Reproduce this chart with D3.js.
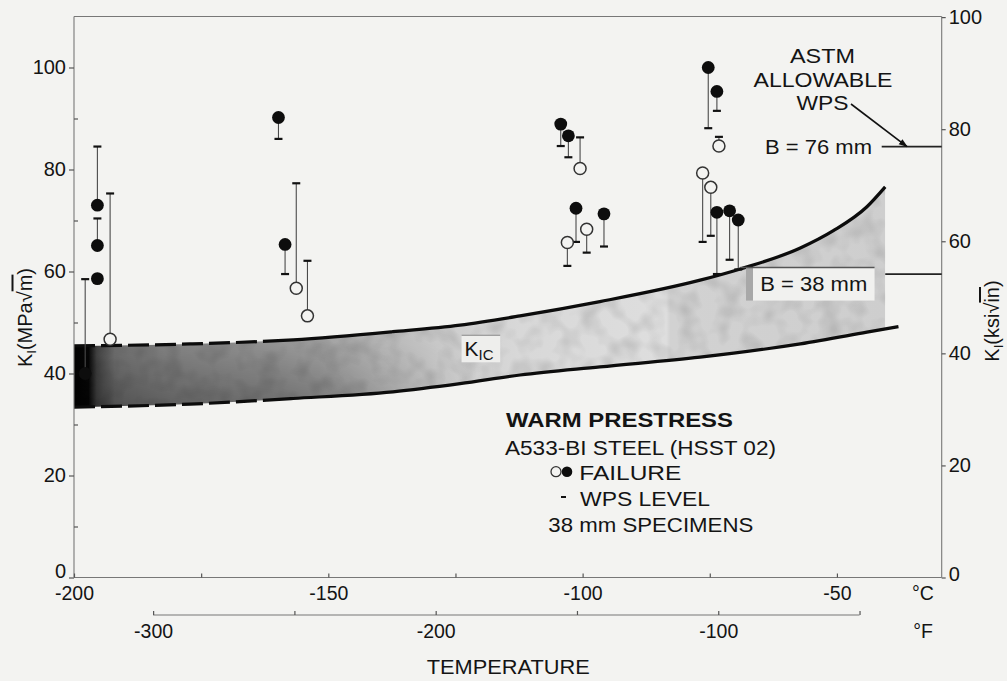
<!DOCTYPE html>
<html><head><meta charset="utf-8">
<script src="https://cdn.jsdelivr.net/npm/d3@7"></script>
<style>
html,body{margin:0;padding:0;background:#f3f3f1;}
svg{display:block;}
text{font-family:"Liberation Sans",Arial,Helvetica,sans-serif;fill:#141414;}
</style></head><body>
<svg id="chart" width="1007" height="681"></svg>
<script>
// ---------- data ----------
const tempTicksC = [-200, -150, -100, -50];
const tempAllTicksC = [-200, -175, -150, -125, -100, -75, -50];
const tempTicksF = [-300, -200, -100];
const tempAllTicksF = [-300, -250, -200, -150, -100, -50];
const kTicksMPa = [0, 20, 40, 60, 80, 100];
const kMinorMPa = [10, 30, 50, 70, 90];
const kTicksKsi = [0, 20, 40, 60, 80, 100];

// specimens: temperature (°C), failure K (MPa√m), WPS level K (MPa√m), filled symbol
const specTemp  = [-197.8, -195.4, -195.4, -195.4, -192.9, -159.8, -158.5, -156.3, -154.1,
                   -104.3, -102.8, -100.5, -101.3, -103.0, -99.2, -95.8,
                   -75.3, -73.6, -73.2, -76.4, -74.8, -73.6, -71.1, -69.4];
const specFail  = [40.0, 73.0, 65.1, 58.6, 46.7, 90.2, 65.3, 56.7, 51.3,
                   88.9, 86.6, 80.2, 72.4, 65.7, 68.3, 71.3,
                   100.0, 95.3, 84.6, 79.3, 76.5, 71.6, 71.9, 70.1];
const specWps   = [58.5, 84.5, 70.4, 58.6, 75.3, 86.0, 59.5, 77.3, 62.1,
                   84.6, 82.4, 86.3, 65.8, 61.1, 63.7, 64.9,
                   88.1, 91.5, 86.4, 65.8, 67.0, 59.5, 62.3, 60.4];
const specFilled = [1, 1, 1, 1, 0, 1, 1, 0, 0,
                    1, 1, 0, 1, 0, 0, 1,
                    1, 1, 0, 0, 0, 1, 1, 1];

// K_IC scatter band
const bandUpperT = [-200, -177.2, -156.9, -137.3, -124.1, -112.3, -96.6, -76.9, -69.0, -57.2, -50.7, -44.1, -40.5];
const bandUpperK = [45.4, 45.8, 46.6, 48.2, 49.5, 51.3, 54.1, 58.3, 60.5, 64.6, 68.0, 72.7, 76.6];
const bandLowerT = [-200, -177.2, -156.9, -137.3, -124.1, -112.3, -96.6, -76.9, -57.2, -44.1, -37.9];
const bandLowerK = [33.4, 34.0, 35.1, 36.4, 38.0, 39.7, 41.3, 43.2, 45.8, 48.1, 49.2];

// ASTM allowable WPS levels (MPa√m)
const allowLabels = ["B = 76 mm", "B = 38 mm"];
const allowK = [84.5, 59.5];

// ---------- scales ----------
const svg = d3.select("#chart");
const x = d3.scaleLinear().domain([-200, -29.4]).range([74, 941.7]);
const y = d3.scaleLinear().domain([0, 110]).range([577.5, 16.5]);
const yK = d3.scaleLinear().domain([0, 110 / 1.0988]).range([577.5, 16.5]);
const f2c = f => (f - 32) * 5 / 9;
const xF = d3.scaleLinear().domain([-300, -50]).range([x(f2c(-300)), x(f2c(-50))]);

const defs = svg.append("defs");
// band gradient
const grad = defs.append("linearGradient").attr("id", "bandGrad")
  .attr("gradientUnits", "userSpaceOnUse")
  .attr("x1", x(-200)).attr("x2", x(-40.5)).attr("y1", 0).attr("y2", 0);
[[0, "#040404"], [0.018, "#080808"], [0.028, "#4a4a4a"], [0.05, "#7a7a7a"], [0.12, "#8e8e8e"],
 [0.25, "#a0a0a0"], [0.35, "#b8b8b8"], [0.45, "#cdcdcd"], [0.55, "#d8d8d8"], [0.73, "#dedede"],
 [0.735, "#d2d2d2"], [1, "#cecece"]].forEach(([o, c]) =>
  grad.append("stop").attr("offset", o).attr("stop-color", c));
// vertical darkening (bottom of band, left part)
const vg = defs.append("linearGradient").attr("id", "vGrad").attr("x1", 0).attr("x2", 0).attr("y1", 0).attr("y2", 1);
vg.append("stop").attr("offset", 0).attr("stop-color", "#000").attr("stop-opacity", 0);
vg.append("stop").attr("offset", 1).attr("stop-color", "#000").attr("stop-opacity", 0.35);
const hm = defs.append("linearGradient").attr("id", "hMaskGrad")
  .attr("gradientUnits", "userSpaceOnUse").attr("x1", x(-200)).attr("x2", x(-120)).attr("y1", 0).attr("y2", 0);
hm.append("stop").attr("offset", 0).attr("stop-color", "#fff");
hm.append("stop").attr("offset", 0.6).attr("stop-color", "#fff");
hm.append("stop").attr("offset", 1).attr("stop-color", "#000");
defs.append("mask").attr("id", "leftMask").attr("maskUnits", "userSpaceOnUse")
  .attr("x", 0).attr("y", 0).attr("width", 1007).attr("height", 681)
  .append("rect").attr("x", 0).attr("y", 0).attr("width", 1007).attr("height", 681).attr("fill", "url(#hMaskGrad)");
// grain
const flt = defs.append("filter").attr("id", "grain").attr("x", 0).attr("y", 0).attr("width", 1).attr("height", 1);
flt.append("feTurbulence").attr("type", "fractalNoise").attr("baseFrequency", 0.05).attr("numOctaves", 2).attr("seed", 7);
flt.append("feColorMatrix").attr("type", "matrix")
  .attr("values", "0 0 0 0 0  0 0 0 0 0  0 0 0 0 0  1.2 0 0 0 -0.5");
// clip paths for band
defs.append("clipPath").attr("id", "belowUpper").append("path")
  .attr("d", d3.area().x(d => x(d[0])).y0(y(0)).y1(d => y(d[1])).curve(d3.curveMonotoneX)(bandUpperT.map((t, i) => [t, bandUpperK[i]])));
defs.append("clipPath").attr("id", "aboveLower").append("path")
  .attr("d", d3.area().x(d => x(d[0])).y0(y(110)).y1(d => y(d[1])).curve(d3.curveMonotoneX)(bandLowerT.map((t, i) => [t, bandLowerK[i]])));
// arrow marker
defs.append("marker").attr("id", "arrow").attr("viewBox", "0 0 10 10").attr("refX", 9).attr("refY", 5)
  .attr("markerWidth", 9).attr("markerHeight", 9).attr("markerUnits", "userSpaceOnUse").attr("orient", "auto")
  .append("path").attr("d", "M0,1.5 L10,5 L0,8.5 Z").attr("fill", "#111");

// ---------- band ----------
const bandG = svg.append("g").attr("clip-path", "url(#belowUpper)")
  .append("g").attr("clip-path", "url(#aboveLower)");
const bx0 = x(-200), bx1 = x(-40.5);
bandG.append("rect").attr("x", bx0).attr("y", y(110)).attr("width", bx1 - bx0).attr("height", y(0) - y(110))
  .attr("fill", "url(#bandGrad)");
bandG.append("rect").attr("x", bx0).attr("y", y(50)).attr("width", bx1 - bx0).attr("height", y(32) - y(50))
  .attr("fill", "url(#vGrad)").attr("mask", "url(#leftMask)");
bandG.append("rect").attr("x", bx0).attr("y", y(80)).attr("width", bx1 - bx0).attr("height", y(30) - y(80))
  .attr("filter", "url(#grain)").attr("opacity", 0.22);

const lineGen = d3.line().x(d => x(d[0])).y(d => y(d[1])).curve(d3.curveMonotoneX);
function bandLine(T, K, dashUntil) {
  const p = svg.append("path").attr("d", lineGen(T.map((t, i) => [t, K[i]])))
    .attr("fill", "none").attr("stroke", "#0c0c0c").attr("stroke-width", 3.2);
  const node = p.node(), L = node.getTotalLength();
  let lo = 0, hi = L;
  for (let k = 0; k < 30; k++) { const m = (lo + hi) / 2; if (node.getPointAtLength(m).x < x(dashUntil)) lo = m; else hi = m; }
  const arr = []; let s = 0;
  while (s < lo) { arr.push(21, 6); s += 27; }
  arr.push(L + 10, 0);
  p.attr("stroke-dasharray", arr.join(" "));
}
bandLine(bandUpperT, bandUpperK, -167);
bandLine(bandLowerT, bandLowerK, -163);

// K_IC label box
const kx0 = x(-123.8), kx1 = x(-116.2), ky0 = y(47.5), ky1 = y(42.2);
svg.append("rect").attr("x", kx0).attr("y", ky0).attr("width", kx1 - kx0).attr("height", ky1 - ky0).attr("fill", "#eeeeec");
svg.append("line").attr("x1", kx0).attr("x2", kx1).attr("y1", ky0).attr("y2", ky0).attr("stroke", "#888").attr("stroke-width", 1);
const kic = svg.append("text").attr("x", kx0 + 3).attr("y", ky1 - 6).attr("font-size", 21);
kic.append("tspan").text("K");
kic.append("tspan").attr("font-size", 15).attr("dy", 4).text("IC");

// B = 38 mm box inside band
const b0 = x(-66.5), b1 = x(-42.6), bt = y(60.8), bb = y(54.3);
svg.append("rect").attr("x", b0 - 7).attr("y", bt).attr("width", 7).attr("height", bb - bt).attr("fill", "#a8a8a8");
svg.append("rect").attr("x", b0).attr("y", bt).attr("width", b1 - b0).attr("height", bb - bt).attr("fill", "#f1f1ef");
svg.append("line").attr("x1", x(-69)).attr("x2", b1).attr("y1", bt).attr("y2", bt).attr("stroke", "#555").attr("stroke-width", 1.5);
svg.append("text").attr("x", (b0 + b1) / 2).attr("y", bb - 10).attr("text-anchor", "middle")
  .attr("font-size", 20).attr("textLength", 107).attr("lengthAdjust", "spacingAndGlyphs").text(allowLabels[1]);

// ---------- frame & axes ----------
const frame = svg.append("g").attr("stroke", "#777").attr("stroke-width", 1.1).attr("fill", "none");
frame.append("line").attr("x1", x(-200)).attr("x2", x(-29.4)).attr("y1", y(110)).attr("y2", y(110));
frame.append("line").attr("x1", x(-200)).attr("x2", x(-200)).attr("y1", y(110)).attr("y2", y(0));
frame.append("line").attr("x1", x(-29.4)).attr("x2", x(-29.4)).attr("y1", y(110)).attr("y2", y(0));
frame.append("line").attr("x1", x(-200)).attr("x2", x(-29.4)).attr("y1", y(0)).attr("y2", y(0));
frame.append("line").attr("x1", xF(-300)).attr("x2", xF(-50)).attr("y1", 615).attr("y2", 615);

function styleAxis(g, size) {
  g.select(".domain").remove();
  g.selectAll(".tick line").attr("stroke", "#555").attr("stroke-width", 1.2);
  g.selectAll(".tick text").attr("font-size", size).attr("fill", "#141414")
    .attr("font-family", '"Liberation Sans",Arial,sans-serif');
}
const gl = svg.append("g").attr("transform", `translate(${x(-200)},0)`)
  .call(d3.axisLeft(y).tickValues(kTicksMPa).tickSizeInner(5).tickSizeOuter(0).tickPadding(3).tickFormat(d3.format("d")));
styleAxis(gl, 20);
gl.selectAll(".tick").filter(d => d === 0).select("text").attr("y", -6);
const glm = svg.append("g").attr("transform", `translate(${x(-200)},0)`)
  .call(d3.axisRight(y).tickValues(kMinorMPa).tickSizeInner(4).tickSizeOuter(0).tickFormat(""));
styleAxis(glm, 10);

const gr = svg.append("g").attr("transform", `translate(${x(-29.4)},0)`)
  .call(d3.axisRight(yK).tickValues(kTicksKsi).tickSizeInner(4).tickSizeOuter(0).tickPadding(3).tickFormat(d3.format("d")));
styleAxis(gr, 20);
gr.selectAll(".tick").filter(d => d === 0).select("text").attr("y", -3);

const gb = svg.append("g").attr("transform", `translate(0,${y(0)})`)
  .call(d3.axisBottom(x).tickValues(tempAllTicksC).tickSizeInner(-4).tickSizeOuter(0).tickPadding(8.5)
    .tickFormat(d => tempTicksC.includes(d) ? String(d) : ""));
styleAxis(gb, 19.5);

const gf = svg.append("g").attr("transform", "translate(0,615)")
  .call(d3.axisBottom(xF).tickValues(tempAllTicksF).tickSizeInner(-4).tickSizeOuter(0).tickPadding(9)
    .tickFormat(d => tempTicksF.includes(d) ? String(d) : ""));
styleAxis(gf, 19.5);

svg.append("text").attr("x", 923).attr("y", 600).attr("text-anchor", "middle").attr("font-size", 19.5).text("°C");
svg.append("text").attr("x", 923).attr("y", 638).attr("text-anchor", "middle").attr("font-size", 19.5).text("°F");
svg.append("text").attr("x", 426.7).attr("y", 674).attr("font-size", 20)
  .attr("textLength", 163).attr("lengthAdjust", "spacingAndGlyphs").text("TEMPERATURE");

// axis titles
const lt = svg.append("text").attr("transform", "translate(31.5,317.5) rotate(-90)")
  .attr("text-anchor", "middle").attr("font-size", 20);
lt.append("tspan").text("K");
lt.append("tspan").attr("font-size", 13).attr("dy", 4).text("I");
lt.append("tspan").attr("dy", -4).text("(MPa");
lt.append("tspan").text("√");
lt.append("tspan").attr("text-decoration", "overline").text("m");
lt.append("tspan").text(")");

const rt = svg.append("text").attr("transform", "translate(999,321) rotate(-90)")
  .attr("text-anchor", "middle").attr("font-size", 20);
rt.append("tspan").text("K");
rt.append("tspan").attr("font-size", 13).attr("dy", 4).text("I");
rt.append("tspan").attr("dy", -4).text("(ksi");
rt.append("tspan").text("√");
rt.append("tspan").attr("text-decoration", "overline").text("in");
rt.append("tspan").text(")");

// ---------- ASTM allowable ----------
svg.append("line").attr("x1", 881.7).attr("x2", x(-29.4)).attr("y1", y(allowK[0])).attr("y2", y(allowK[0]))
  .attr("stroke", "#222").attr("stroke-width", 1.8);
svg.append("line").attr("x1", x(-40.5)).attr("x2", x(-29.4)).attr("y1", y(allowK[1])).attr("y2", y(allowK[1]))
  .attr("stroke", "#222").attr("stroke-width", 1.8);
svg.append("text").attr("x", 765).attr("y", y(allowK[0]) + 7).attr("font-size", 20)
  .attr("textLength", 107).attr("lengthAdjust", "spacingAndGlyphs").text(allowLabels[0]);
[["ASTM", 822.5, 63.3, 65], ["ALLOWABLE", 823, 86.7, 139], ["WPS", 822.5, 110, 52]].forEach(([t, cx, by, w]) =>
  svg.append("text").attr("x", cx - w / 2).attr("y", by).attr("font-size", 21)
    .attr("textLength", w).attr("lengthAdjust", "spacingAndGlyphs").text(t));
svg.append("line").attr("x1", 851).attr("y1", 104).attr("x2", 907).attr("y2", y(allowK[0]))
  .attr("stroke", "#111").attr("stroke-width", 1.6).attr("marker-end", "url(#arrow)");

// ---------- specimens ----------
const specs = specTemp.map((t, i) => ({ t, f: specFail[i], w: specWps[i], filled: specFilled[i] }));
const sg = svg.append("g");
specs.forEach(d => {
  sg.append("line").attr("x1", x(d.t)).attr("x2", x(d.t)).attr("y1", y(d.f)).attr("y2", y(d.w))
    .attr("stroke", "#4a4a4a").attr("stroke-width", 1.1);
  sg.append("line").attr("x1", x(d.t) - 4).attr("x2", x(d.t) + 4).attr("y1", y(d.w)).attr("y2", y(d.w))
    .attr("stroke", "#111").attr("stroke-width", 2.2);
});
specs.forEach(d => {
  sg.append("circle").attr("cx", x(d.t)).attr("cy", y(d.f))
    .attr("r", d.filled ? 6.4 : 6)
    .attr("fill", d.filled ? "#0d0d0d" : "#f3f3f1")
    .attr("stroke", d.filled ? "none" : "#333").attr("stroke-width", 1.5);
});

// ---------- legend ----------
svg.append("text").attr("x", 506).attr("y", 427.3).attr("font-size", 20).attr("font-weight", "bold")
  .attr("textLength", 227).attr("lengthAdjust", "spacingAndGlyphs").text("WARM PRESTRESS");
svg.append("text").attr("x", 505).attr("y", 455).attr("font-size", 20)
  .attr("textLength", 271).attr("lengthAdjust", "spacingAndGlyphs").text("A533-BI STEEL (HSST 02)");
svg.append("circle").attr("cx", 556).attr("cy", 471.7).attr("r", 5).attr("fill", "none").attr("stroke", "#333").attr("stroke-width", 1.3);
svg.append("circle").attr("cx", 567).attr("cy", 471.7).attr("r", 5.3).attr("fill", "#0d0d0d");
svg.append("text").attr("x", 579.3).attr("y", 480).attr("font-size", 20)
  .attr("textLength", 102).attr("lengthAdjust", "spacingAndGlyphs").text("FAILURE");
svg.append("line").attr("x1", 561).attr("x2", 566).attr("y1", 497).attr("y2", 497).attr("stroke", "#111").attr("stroke-width", 2);
svg.append("text").attr("x", 580).attr("y", 506).attr("font-size", 20)
  .attr("textLength", 130).attr("lengthAdjust", "spacingAndGlyphs").text("WPS LEVEL");
svg.append("text").attr("x", 548.3).attr("y", 531.7).attr("font-size", 20)
  .attr("textLength", 205).attr("lengthAdjust", "spacingAndGlyphs").text("38 mm SPECIMENS");
</script>
</body></html>
